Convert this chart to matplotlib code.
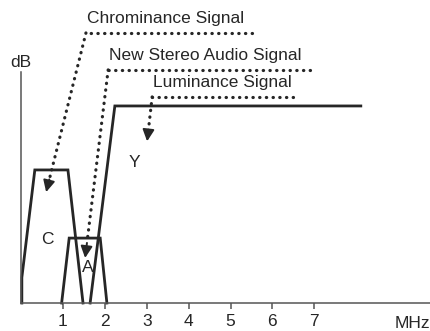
import matplotlib
matplotlib.use("Agg")
import matplotlib.pyplot as plt

# Frequency (MHz) / level (relative dB) outlines of the three signal bands
chroma_x = [0.02, 0.02, 0.33, 1.12, 1.48]
chroma_y = [0.0, 1.1, 5.76, 5.76, 0.0]
audio_x = [0.97, 1.15, 1.89, 2.05]
audio_y = [0.0, 2.81, 2.81, 0.0]
luma_x = [1.65, 2.24, 8.11]
luma_y = [0.0, 8.53, 8.53]

tick_values = [1, 2, 3, 4, 5, 6, 7]
tick_labels = ["1", "2", "3", "4", "5", "6", "7"]

band_letters = ["C", "A", "Y"]
letter_x = [0.62, 1.60, 2.70]
letter_y = [2.75, 1.52, 6.07]

callout_texts = ["Chrominance Signal", "New Stereo Audio Signal", "Luminance Signal"]
# leader path: (start of horizontal run, end of horizontal run, arrow tip)
callout_y = [11.69, 10.09, 8.92]
callout_x0 = [1.55, 2.08, 3.13]
callout_x1 = [5.51, 6.90, 6.49]
tip_x = [0.60, 1.53, 3.01]
tip_y = [4.80, 1.95, 7.00]

INK = "#262626"
FONT = ["Liberation Sans", "DejaVu Sans"]
FS = 12.5

fig = plt.figure(figsize=(4.30, 3.31), dpi=100)
W, H = 430, 331
ax = fig.add_axes([21 / W, 28 / H, 409 / W, 231 / H])
ax.set_xlim(0, 409 / 41.9)
ax.set_ylim(0, 10)

for s in ["top", "right"]:
    ax.spines[s].set_visible(False)
for s in ["left", "bottom"]:
    ax.spines[s].set_color("#555555")
    ax.spines[s].set_linewidth(1.1)
ax.set_yticks([])
ax.set_xticks(tick_values)
ax.set_xticklabels(tick_labels, fontfamily=FONT, fontsize=FS, color=INK)
ax.tick_params(axis="x", direction="out", length=4, width=1.1, color="#555555", pad=4)

for xs, ys in [(chroma_x, chroma_y), (audio_x, audio_y), (luma_x, luma_y)]:
    ax.plot(xs, ys, color=INK, lw=2.0, solid_joinstyle="miter", clip_on=False)

for t, x, y in zip(band_letters, letter_x, letter_y):
    ax.text(x, y, t, ha="center", va="center", fontsize=FS, fontfamily=FONT, color=INK)

dots = dict(color=INK, lw=2.3, linestyle=(0, (0.1, 2.0)), dash_capstyle="round",
            clip_on=False)
for txt, y, x0, x1, tx, ty in zip(callout_texts, callout_y, callout_x0, callout_x1, tip_x, tip_y):
    ax.plot([x1, x0], [y, y], **dots)
    # diagonal leader, stopping short of the arrowhead
    fx = x0 + (tx - x0) * 0.92
    fy = y + (ty - y) * 0.92
    ax.plot([x0, fx], [y, fy], **dots)
    ax.annotate("", xy=(tx, ty), xytext=(fx, fy), annotation_clip=False,
                arrowprops=dict(arrowstyle="-|>,head_length=0.7,head_width=0.35",
                                color=INK, lw=1.4, shrinkA=0, shrinkB=0))
    ax.text(x0 + 0.03, y + 0.3, txt, ha="left", va="bottom", fontsize=FS,
            fontfamily=FONT, color=INK, clip_on=False)

ax.text(0, 10.4, "dB", ha="center", va="center", fontsize=FS, fontfamily=FONT,
        color=INK, clip_on=False)
ax.text(9.35, -0.87, "MHz", ha="center", va="center", fontsize=FS, fontfamily=FONT,
        color=INK, clip_on=False)

fig.savefig("out.png", dpi=100, facecolor="white")
